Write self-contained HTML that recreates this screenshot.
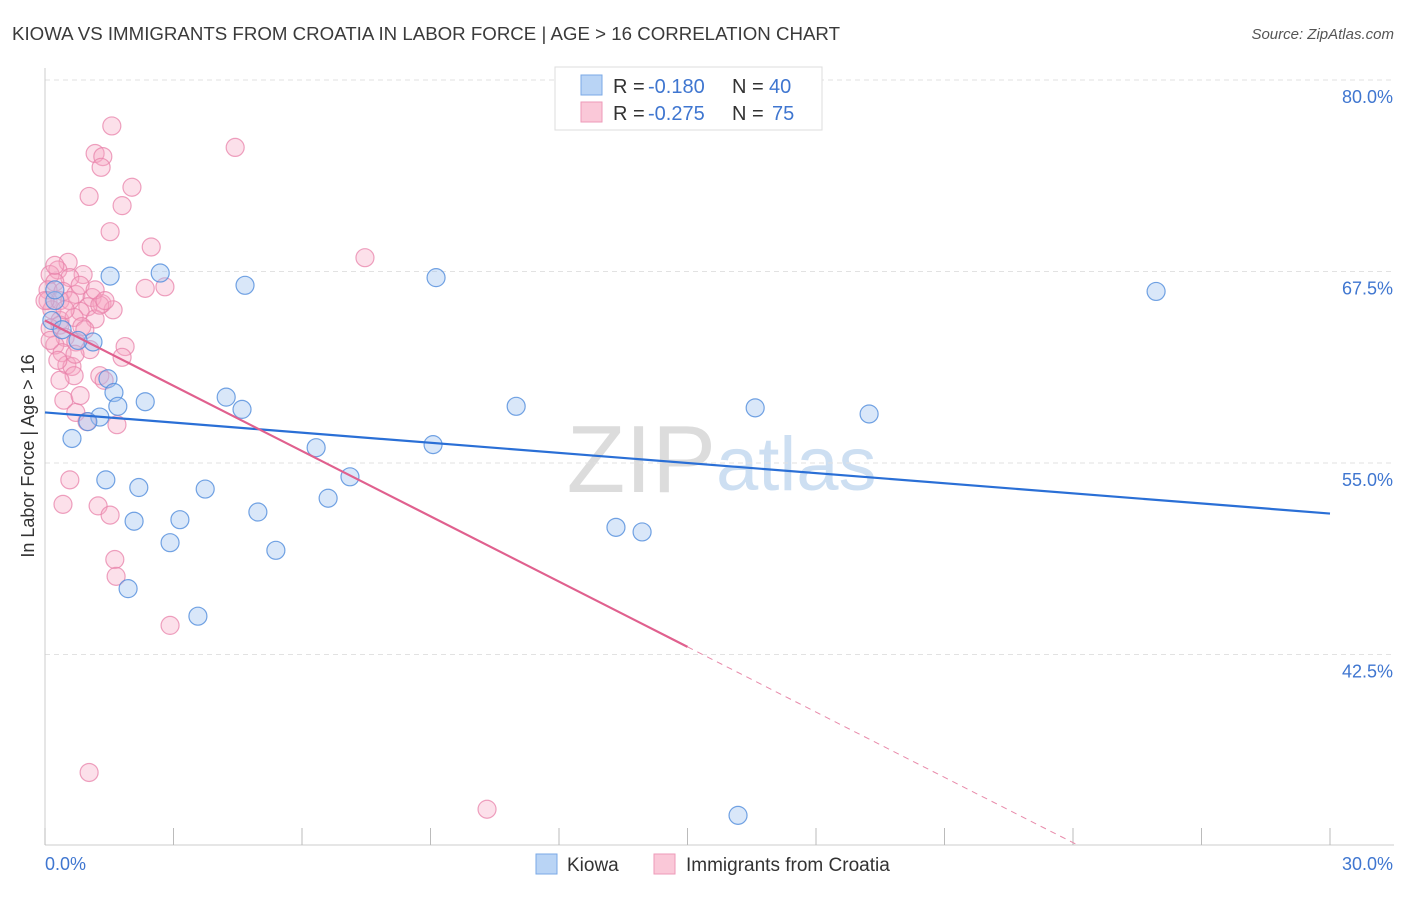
<!DOCTYPE html>
<html><head><meta charset="utf-8"><style>
body{margin:0;background:#fff;font-family:"Liberation Sans",sans-serif;}
svg text{font-family:"Liberation Sans",sans-serif;}
</style></head><body>
<svg id="chart" width="1406" height="892" xmlns="http://www.w3.org/2000/svg">
<text x="12" y="40" font-size="18" fill="#3a3a3a" textLength="828" lengthAdjust="spacingAndGlyphs">KIOWA VS IMMIGRANTS FROM CROATIA IN LABOR FORCE | AGE &gt; 16 CORRELATION CHART</text>
<text x="1394" y="39" font-size="15" fill="#555" font-style="italic" text-anchor="end">Source: ZipAtlas.com</text>
<text x="716" y="492" font-size="96" fill="#dcdcdc" text-anchor="end" font-family="Liberation Serif">ZIP</text>
<text x="716" y="490" font-size="76" fill="#cddff2">atlas</text>
<g id="grid"></g>
<g id="axes"></g>
<g id="pts"></g>
<g id="trends"></g>
<text transform="translate(34,456) rotate(-90)" font-size="18" fill="#333" text-anchor="middle">In Labor Force | Age &gt; 16</text>
<g>
<rect x="555" y="67" width="267" height="63" fill="#fff" stroke="#ddd"/>
<rect x="581" y="75" width="21" height="20" fill="#b9d4f5" stroke="#7aa8e6"/>
<rect x="581" y="102" width="21" height="20" fill="#fac8d8" stroke="#ee9ab8"/>
<text x="613" y="93" font-size="20" fill="#333">R =</text>
<text x="648" y="93" font-size="20" fill="#3f76d0">-0.180</text>
<text x="732" y="93" font-size="20" fill="#333">N =</text>
<text x="769" y="93" font-size="20" fill="#3f76d0">40</text>
<text x="613" y="120" font-size="20" fill="#333">R =</text>
<text x="648" y="120" font-size="20" fill="#3f76d0">-0.275</text>
<text x="732" y="120" font-size="20" fill="#333">N =</text>
<text x="772" y="120" font-size="20" fill="#3f76d0">75</text>
</g>
<g>
<rect x="536" y="854" width="21" height="20" fill="#b9d4f5" stroke="#7aa8e6"/>
<text x="567" y="871" font-size="19" fill="#333">Kiowa</text>
<rect x="654" y="854" width="21" height="20" fill="#fac8d8" stroke="#ee9ab8"/>
<text x="686" y="871" font-size="19" fill="#333">Immigrants from Croatia</text>
</g>
</svg>
<script>
const yTicks=[80,67.5,55,42.5];
const xTickLabels=["0.0%","30.0%"];
const kiowaX=[1.52,2.69,4.67,9.13,25.94,1.12,0.77,1.47,1.61,1.70,2.34,4.23,4.60,11.0,16.58,19.24,1.28,0.63,1.00,6.33,9.06,1.42,2.19,3.74,7.12,6.61,4.97,3.15,2.08,13.33,13.94,2.92,5.39,1.94,3.57,16.18,0.23,0.23,0.16,0.40];
const kiowaY=[67.2,67.4,66.6,67.1,66.2,62.9,63.0,60.5,59.6,58.7,59.0,59.3,58.5,58.7,58.6,58.2,58.0,56.6,57.7,56.0,56.2,53.9,53.4,53.3,54.1,52.7,51.8,51.3,51.2,50.8,50.5,49.8,49.3,46.8,45.0,32.0,65.6,66.3,64.3,63.7];
const croX=[1.56,4.44,1.17,1.35,1.31,2.03,1.03,1.80,1.52,2.48,7.47,0.54,0.89,0.30,0.12,0.58,2.34,2.80,0.23,0.07,0.42,0.72,1.10,1.33,1.00,1.59,0.82,0.07,0.16,0.35,0.68,1.17,0.86,0.35,0.12,0.47,0.23,0.72,1.87,1.80,0.40,0.51,0.63,1.28,1.38,0.68,0.44,0.72,0.98,1.68,0.58,1.24,0.42,1.52,1.63,1.66,2.92,1.03,10.32,0.35,0.82,0.0,0.58,0.93,1.05,0.12,1.28,0.23,0.47,1.17,0.30,0.70,1.40,0.35,0.82];
const croY=[77.0,75.6,75.2,75.0,74.3,73.0,72.4,71.8,70.1,69.1,68.4,68.1,67.3,67.6,67.3,67.1,66.4,66.5,66.8,66.3,66.2,66.0,65.8,65.4,65.2,65.0,64.9,65.6,65.0,64.3,64.5,64.4,63.9,64.0,63.8,63.2,62.7,62.9,62.6,61.9,62.2,61.4,61.3,60.7,60.4,60.7,59.1,58.3,57.7,57.5,53.9,52.2,52.3,51.6,48.7,47.6,44.4,34.8,32.4,65.6,66.6,65.6,65.6,63.7,62.4,63.0,65.3,67.9,65.0,66.3,61.7,62.1,65.6,60.4,59.4];
const kiowaTrend=[58.3,51.7];
const croTrend=[64.3,43.0];
const X0=45,X1=1330,Y80=80,PPU=15.32;
const sx=v=>X0+v/30*(X1-X0);
const sy=v=>Y80+(80-v)*PPU;
const NS="http://www.w3.org/2000/svg";
function mk(tag,attrs,parent){const e=document.createElementNS(NS,tag);for(const k in attrs)e.setAttribute(k,attrs[k]);parent.appendChild(e);return e;}
const grid=document.getElementById('grid'),axes=document.getElementById('axes'),pts=document.getElementById('pts'),tr=document.getElementById('trends');
yTicks.forEach(t=>{
 const l=mk('line',{x1:X0,x2:1394,y1:sy(t),y2:sy(t),stroke:'#e2e2e2','stroke-dasharray':'5,4'},grid);
 
 
 const tx=mk('text',{x:1393,y:sy(t)+23,'font-size':18,fill:'#3f76d0','text-anchor':'end'},grid);
 tx.textContent=t.toFixed(1)+'%';
 
 
});
const ax=mk('line',{x1:X0,x2:X0,y1:68,y2:845,stroke:'#ccc'},axes);


const bx=mk('line',{x1:X0,x2:1394,y1:845,y2:845,stroke:'#ccc'},axes);


for(let i=0;i<=10;i++){
 const t=mk('line',{x1:sx(i*3),x2:sx(i*3),y1:828,y2:845,stroke:'#bbb'},axes);
 
 
}
const xl0=mk('text',{x:45,y:870,'font-size':18,fill:'#3f76d0'},axes);
xl0.textContent=xTickLabels[0];


const xl1=mk('text',{x:1393,y:870,'font-size':18,fill:'#3f76d0','text-anchor':'end'},axes);
xl1.textContent=xTickLabels[1];


croX.forEach((x,i)=>{
 const c=mk('circle',{cx:sx(x),cy:sy(croY[i]),r:9,fill:'rgba(245,165,195,0.35)',stroke:'rgba(232,130,170,0.75)','stroke-width':1.2},pts);
 
 
});
kiowaX.forEach((x,i)=>{
 const c=mk('circle',{cx:sx(x),cy:sy(kiowaY[i]),r:9,fill:'rgba(160,195,240,0.4)',stroke:'rgba(80,140,220,0.8)','stroke-width':1.2},pts);
 
 
});
const kl=mk('line',{x1:sx(0),y1:sy(kiowaTrend[0]),x2:sx(30),y2:sy(kiowaTrend[1]),stroke:'#2a6fd6','stroke-width':2.2},tr);


const slope=(croTrend[1]-croTrend[0])/15;
const xEnd=(30-croTrend[0])/slope;
const cl=mk('line',{x1:sx(0),y1:sy(croTrend[0]),x2:sx(15),y2:sy(croTrend[1]),stroke:'#e0608e','stroke-width':2.2},tr);


const cd=mk('line',{x1:sx(15),y1:sy(croTrend[1]),x2:sx(xEnd),y2:sy(30),stroke:'#e88aaa','stroke-width':1,'stroke-dasharray':'6,5'},tr);


</script>
</body></html>
